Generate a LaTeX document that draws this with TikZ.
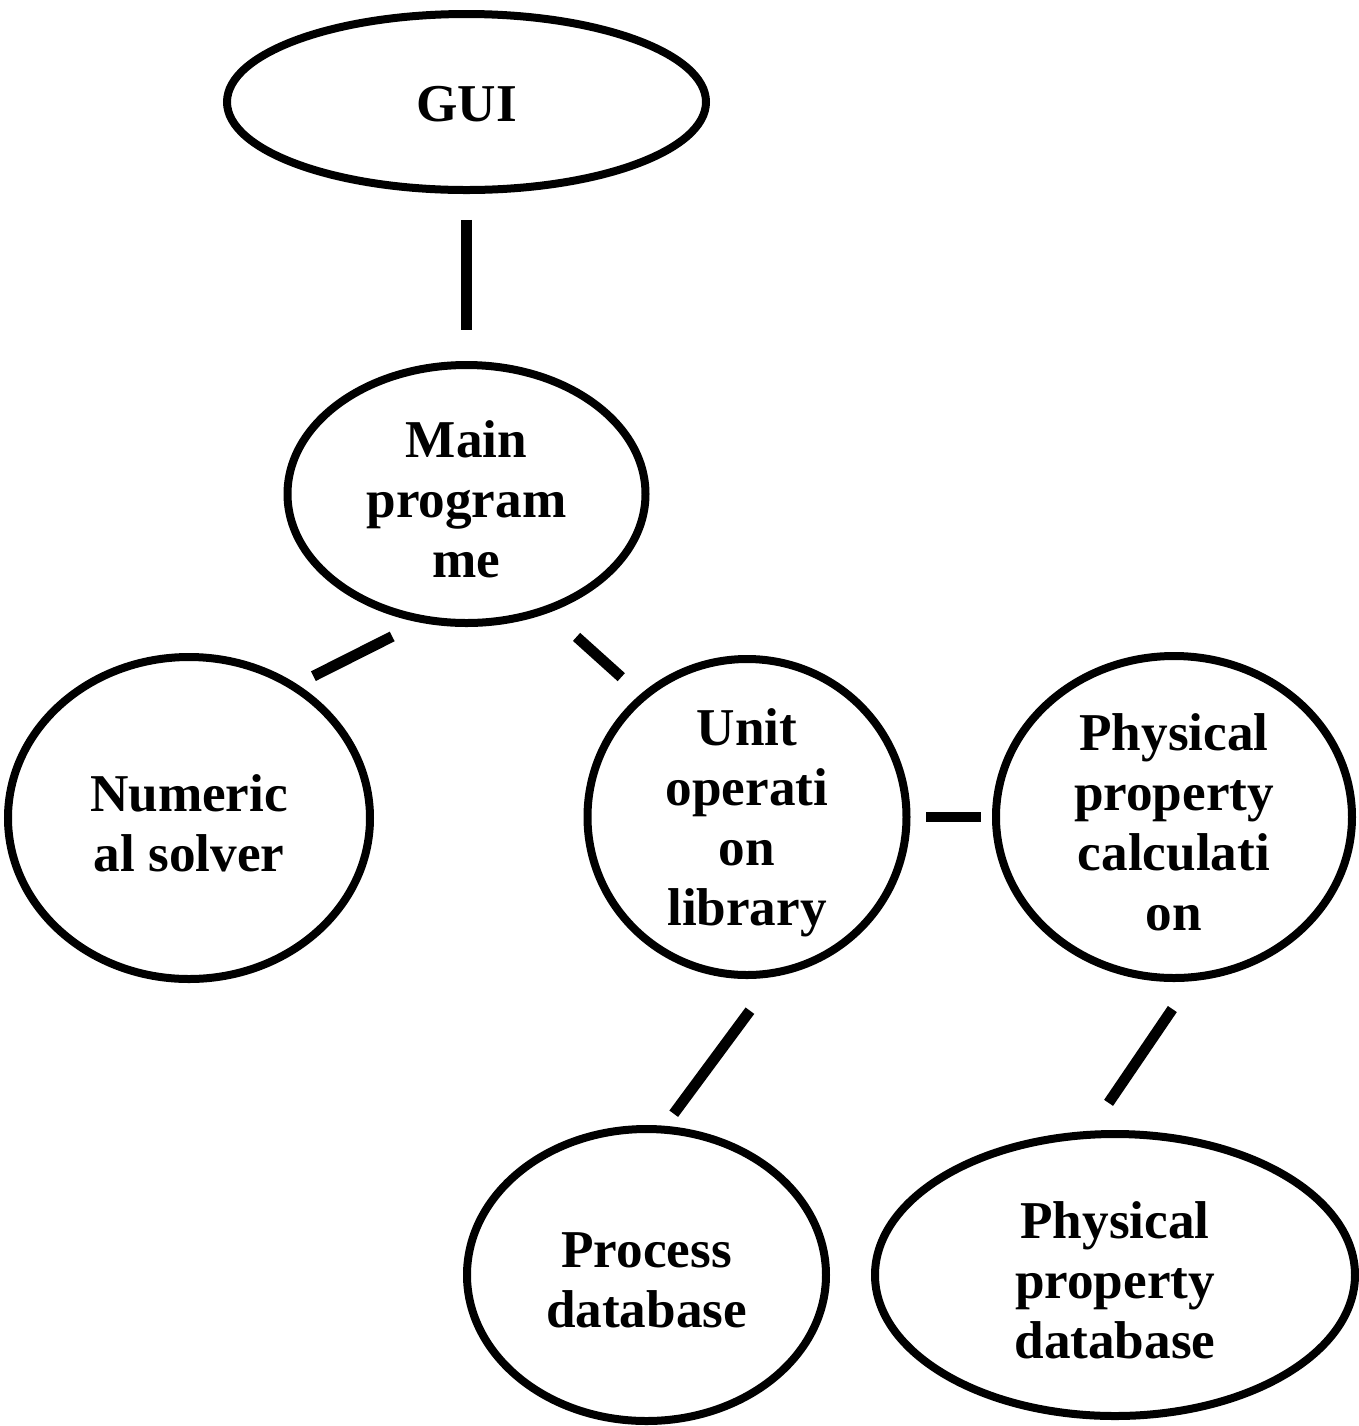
\documentclass[tikz,border=0pt]{standalone}
\usepackage{fontspec}
\setmainfont{Liberation Serif}
\usetikzlibrary{shapes.geometric}

\tikzset{
  bubble/.style={ellipse, draw=black, line width=4pt, fill=white, inner sep=0pt},
  lbl/.style={align=center, font=\fontsize{26.6}{30}\selectfont\bfseries, inner sep=0pt, yshift=-2.8pt},
  link/.style={draw=black, line width=5.4pt, line cap=butt}
}

\begin{document}
\begin{tikzpicture}[x=0.5pt, y=-0.5pt]
  \useasboundingbox[fill=white] (0,0) rectangle (1359,1426);

  % modules
  \node[bubble, minimum width=479pt/2, minimum height=176pt/2,
        label={[lbl, yshift=1.6pt]center:GUI}] (gui) at (466.5,102) {};
  \node[bubble, minimum width=358pt/2, minimum height=258pt/2,
        label={[lbl]center:{Main\\program\\me}}] (main) at (466.5,494) {};
  \node[bubble, minimum width=362pt/2, minimum height=322pt/2,
        label={[lbl]center:{Numeric\\al solver}}] (num) at (189,818) {};
  \node[bubble, minimum width=319pt/2, minimum height=316pt/2,
        label={[lbl]center:{Unit\\operati\\on\\library}}] (unit) at (747,817) {};
  \node[bubble, minimum width=356pt/2, minimum height=322pt/2,
        label={[lbl]center:{Physical\\property\\calculati\\on}}] (phys) at (1174,817) {};
  \node[bubble, minimum width=359pt/2, minimum height=292pt/2,
        label={[lbl]center:{Process\\database}}] (pdb) at (646.5,1275) {};
  \node[bubble, minimum width=480pt/2, minimum height=282pt/2,
        label={[lbl]center:{Physical\\property\\database}}] (ppdb) at (1115,1275) {};

  % links between modules, detached from the outlines
  \draw[link, shorten <=12.9pt, shorten >=15.7pt] (gui.south) -- (main.north);
  \draw[link, shorten <=15.4pt, shorten >=9pt]    (main.250.9) -- (num.51.2);
  \draw[link, shorten <=18.2pt, shorten >=12.8pt] (main.305.8) -- (unit.131.6);
  \draw[link, shorten <=7.75pt, shorten >=5.65pt] (unit.east) -- (phys.west);
  \draw[link, shorten <=21.2pt, shorten >=7.5pt]  (unit.280.8) -- (pdb.83.4);
  \draw[link, shorten <=16.8pt, shorten >=16.9pt] (phys.276.8) -- (ppdb.100.95);
\end{tikzpicture}
\end{document}
